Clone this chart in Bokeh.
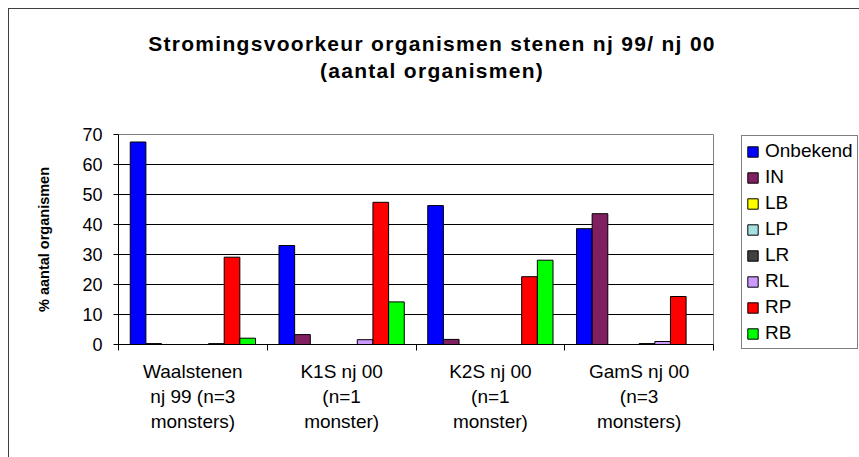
from bokeh.plotting import figure
from bokeh.models import Range1d, FixedTicker, Legend, LegendItem, Div
from bokeh.layouts import column, row
from bokeh.embed import file_html
from bokeh.resources import INLINE

# ---- data ----
categories = [
    "Waalstenen\nnj 99 (n=3\nmonsters)",
    "K1S nj 00\n(n=1\nmonster)",
    "K2S nj 00\n(n=1\nmonster)",
    "GamS nj 00\n(n=3\nmonsters)",
]
series_names = ["Onbekend", "IN", "LB", "LP", "LR", "RL", "RP", "RB"]
onbekend = [67.5, 33.0, 46.3, 38.6]
in_vals = [0.3, 3.3, 1.7, 43.6]
lb_vals = [0.0, 0.0, 0.0, 0.0]
lp_vals = [0.0, 0.0, 0.0, 0.0]
lr_vals = [0.0, 0.0, 0.0, 0.3]
rl_vals = [0.3, 1.6, 0.0, 1.0]
rp_vals = [29.1, 47.4, 22.6, 16.0]
rb_vals = [2.1, 14.2, 28.1, 0.0]
y_ticks = [0, 10, 20, 30, 40, 50, 60, 70]
title_line1 = "Stromingsvoorkeur organismen stenen nj 99/ nj 00"
title_line2 = "(aantal organismen)"
y_title = "% aantal organismen"

series_values = [onbekend, in_vals, lb_vals, lp_vals, lr_vals, rl_vals, rp_vals, rb_vals]
colors = ["#0000FF", "#802060", "#FFFF00", "#A6E0E0", "#404040", "#CC99FF", "#FF0000", "#00FF00"]

n_series = len(series_names)
gap = 1.5  # gap width in bar units (Excel 150%)
slot = n_series + gap
bar_w = 1.0 / slot

# ---- title block ----
title_div = Div(
    text=('<div style="font-family:\'Liberation Sans\',Arial,sans-serif;font-weight:bold;'
          'font-size:21px;letter-spacing:1.3px;line-height:26.5px;text-align:center;'
          'color:#000;padding-top:22px;width:846px;">'
          + title_line1 + '<br>' + title_line2 + '</div>'),
    width=850, height=100, margin=0)

# ---- main chart ----
p = figure(width=720, height=348, x_range=Range1d(0, len(categories)), y_range=Range1d(0, 70),
           output_backend="svg", toolbar_location=None,
           min_border_left=109, min_border_right=16, min_border_top=25, min_border_bottom=113)
p.title = None
p.background_fill_color = "white"
p.border_fill_color = "white"
p.outline_line_color = "#808080"

for j, (name, vals, col) in enumerate(zip(series_names, series_values, colors)):
    xs = [g + (gap / 2 + j + 0.5) / slot for g in range(len(categories))]
    p.vbar(x=xs, top=vals, bottom=0, width=bar_w, fill_color=col, line_color="black", line_width=1)

p.xgrid.grid_line_color = None
p.ygrid.grid_line_color = "#000000"
p.ygrid.grid_line_width = 1
p.ygrid.ticker = FixedTicker(ticks=y_ticks)

p.yaxis.ticker = FixedTicker(ticks=y_ticks)
p.yaxis.axis_line_color = "black"
p.yaxis.major_tick_line_color = "black"
p.yaxis.major_tick_out = 5
p.yaxis.major_tick_in = 0
p.yaxis.minor_tick_line_color = None
p.yaxis.major_label_text_font = "Liberation Sans"
p.yaxis.major_label_text_font_size = "18px"
p.yaxis.major_label_text_color = "black"
p.yaxis.major_label_standoff = 11
p.yaxis.axis_label = y_title
p.yaxis.axis_label_text_font = "Liberation Sans"
p.yaxis.axis_label_text_font_style = "bold"
p.yaxis.axis_label_text_font_size = "14.5px"
p.yaxis.axis_label_text_color = "black"
p.yaxis.axis_label_standoff = 27

centers = [g + 0.5 for g in range(len(categories))]
bounds = list(range(len(categories) + 1))
p.xaxis.ticker = FixedTicker(ticks=centers, minor_ticks=bounds)
p.xaxis.major_label_overrides = {c: lab for c, lab in zip(centers, categories)}
p.xaxis.axis_line_color = "black"
p.xaxis.major_tick_line_color = None
p.xaxis.major_tick_out = 0
p.xaxis.major_tick_in = 0
p.xaxis.minor_tick_line_color = "black"
p.xaxis.minor_tick_out = 6
p.xaxis.minor_tick_in = 0
p.xaxis.major_label_text_font = "Liberation Sans"
p.xaxis.major_label_text_font_size = "19px"
p.xaxis.major_label_text_color = "black"
p.xaxis.major_label_text_line_height = 1.2
p.xaxis.major_label_standoff = 10

# ---- legend panel (separate figure; its renderers are hidden, only the legend shows) ----
lf = figure(width=130, height=348, x_range=Range1d(0, 1), y_range=Range1d(0, 1),
            output_backend="svg", toolbar_location=None, x_axis_type=None, y_axis_type=None,
            min_border_left=0, min_border_right=0, min_border_top=0, min_border_bottom=0)
lf.frame_align = False
lf.title = None
lf.outline_line_color = None
lf.grid.grid_line_color = None
lf.background_fill_color = "white"
lf.border_fill_color = "white"
items = []
for j, (name, vals, col) in enumerate(zip(series_names, series_values, colors)):
    xs = [g + (gap / 2 + j + 0.5) / slot for g in range(len(categories))]
    r = lf.vbar(x=xs, top=vals, bottom=0, width=bar_w, fill_color=col, line_color="black",
                line_width=1, visible=False)
    items.append(LegendItem(label=name, renderers=[r]))

legend = Legend(items=items, location=(12, 108))
legend.label_text_font = "Liberation Sans"
legend.label_text_font_size = "19px"
legend.label_text_color = "black"
legend.label_height = 20
legend.glyph_height = 13
legend.glyph_width = 13
legend.spacing = 4
legend.padding = 4
legend.margin = 0
legend.label_standoff = 6
legend.border_line_color = "black"
legend.border_line_width = 1
legend.background_fill_color = "white"
legend.background_fill_alpha = 1.0
legend.inactive_fill_alpha = 0.0
lf.add_layout(legend, "center")

layout = column(title_div, row(p, lf, spacing=0), spacing=0)
layout.styles = {"border-left": "1px solid #404040", "border-top": "1px solid #404040",
                 "margin-left": "8px", "margin-top": "8px", "background": "white"}

open("out.html", "w").write(file_html(layout, INLINE))
